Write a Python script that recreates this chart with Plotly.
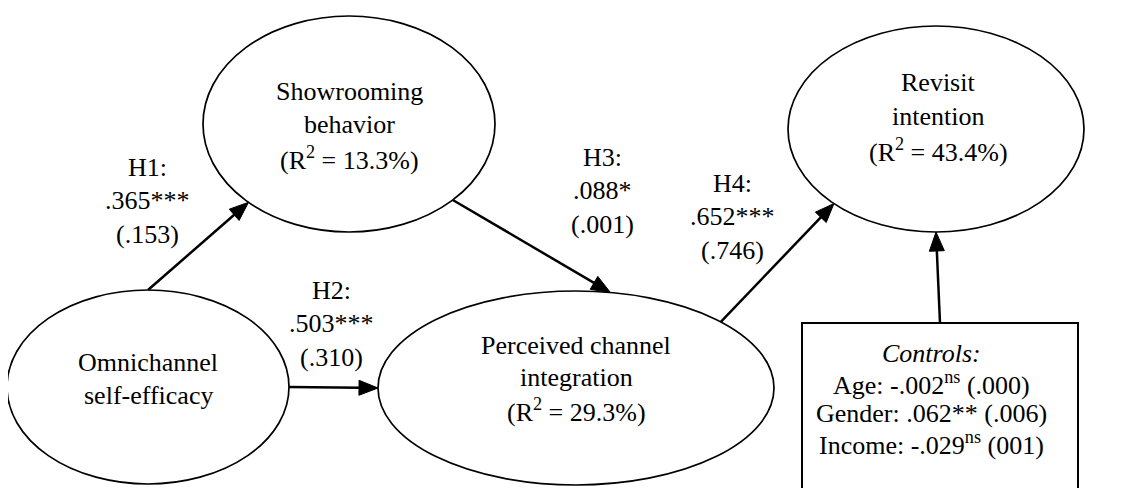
import math
import plotly.graph_objects as go

# ---------------- data ----------------
node_names = ["Omnichannel<br>self-efficacy",
              "Showrooming<br>behavior",
              "Perceived channel<br>integration",
              "Revisit<br>intention"]
node_r2 = [None, "13.3%", "29.3%", "43.4%"]

path_names = ["H1:", "H2:", "H3:", "H4:"]
path_coef = [".365***", ".503***", ".088*", ".652***"]
path_f2 = ["(.153)", "(.310)", "(.001)", "(.746)"]

control_names = ["Age", "Gender", "Income"]
control_coef = ["-.002", ".062**", "-.029"]
control_sup = ["ns", "", "ns"]
control_f2 = ["(.000)", "(.006)", "(001)"]

# ---------------- layout geometry ----------------
W, H = 1146, 488
OFF = 8  # page body margin offset
ell = [
    (148, 387, 141, 97),   # Omnichannel
    (349, 124, 146, 108),  # Showrooming
    (576, 388, 198, 97),   # Perceived
    (936, 129, 148, 103),  # Revisit
]
box = (802, 323, 1078, 520)

def on_ell(i, deg):
    cx, cy, rx, ry = ell[i]
    t = math.radians(deg)
    return cx + rx * math.cos(t), cy + ry * math.sin(t)

arrows = [
    (on_ell(0, -90), on_ell(1, 133.5)),
    (on_ell(0, 0), on_ell(2, 180)),
    (on_ell(1, 44.7), on_ell(2, -80)),
    (on_ell(2, -43), on_ell(3, 133.6)),
    (((box[0] + box[2]) / 2, box[1]), on_ell(3, 90)),
]

FONT = "Liberation Serif"
FS = 26

fig = go.Figure()
fig.add_trace(go.Scatter(x=[0, W], y=[0, H], mode="markers",
                         marker=dict(opacity=0), hoverinfo="skip", showlegend=False))

shapes = []
for cx, cy, rx, ry in ell:
    shapes.append(dict(type="circle", xref="x", yref="y",
                       x0=cx - rx, x1=cx + rx, y0=cy - ry, y1=cy + ry,
                       line=dict(color="black", width=1.7), fillcolor="rgba(0,0,0,0)"))
shapes.append(dict(type="rect", xref="x", yref="y", x0=box[0], x1=box[2],
                   y0=box[1], y1=box[3], line=dict(color="black", width=2)))

HL, HW = 19, 7.5
for (x0, y0), (x1, y1) in arrows:
    dx, dy = x1 - x0, y1 - y0
    d = math.hypot(dx, dy)
    ux, uy = dx / d, dy / d
    nx, ny = -uy, ux
    bx, by = x1 - HL * ux, y1 - HL * uy
    shapes.append(dict(type="line", xref="x", yref="y", x0=x0, y0=y0,
                       x1=bx + 2 * ux, y1=by + 2 * uy,
                       line=dict(color="black", width=2.5)))
    path = "M %.2f %.2f L %.2f %.2f L %.2f %.2f Z" % (
        x1, y1, bx + HW * nx, by + HW * ny, bx - HW * nx, by - HW * ny)
    shapes.append(dict(type="path", xref="x", yref="y", path=path,
                       fillcolor="black", line=dict(color="black", width=1)))

annotations = []

def txt(x, y, s, size=FS):
    annotations.append(dict(x=x, y=y, xref="x", yref="y", text=s, showarrow=False,
                            xanchor="center", yanchor="middle",
                            font=dict(family=FONT, size=size, color="black")))

SH = -10  # baseline -> middle offset
node_text_pos = [(148, 372, 33.5), (349, 101, 33.5), (576, 355, 32.5), (938, 92, 34)]
for i, (x, b, sp) in enumerate(node_text_pos):
    lines = node_names[i].split("<br>")
    if node_r2[i]:
        lines.append("(R<sup>2</sup> = %s)" % node_r2[i])
    for k, ln in enumerate(lines):
        txt(x, b + k * sp + SH, ln)

path_pos = [(147, 177), (331, 300), (602, 167), (732, 193)]
for i, (x, b) in enumerate(path_pos):
    for k, ln in enumerate([path_names[i], path_coef[i], path_f2[i]]):
        txt(x, b + k * 33.5 + SH, ln)

cx_ctrl = 931
txt(cx_ctrl, 363 + SH, "<i>Controls:</i>")
for k in range(3):
    sup = "<sup>%s</sup>" % control_sup[k] if control_sup[k] else ""
    s = "%s: %s%s %s" % (control_names[k], control_coef[k], sup, control_f2[k])
    txt(cx_ctrl, 393 + k * 30 + SH, s)

fig.update_layout(
    width=W, height=H, margin=dict(l=0, r=0, t=0, b=0),
    font=dict(family=FONT, size=FS, color="black"),
    paper_bgcolor="white", plot_bgcolor="white",
    xaxis=dict(range=[OFF, W + OFF], visible=False, fixedrange=True),
    yaxis=dict(range=[H + OFF, OFF], visible=False, fixedrange=True),
    shapes=shapes, annotations=annotations, showlegend=False,
)
fig.write_html("out.html")
